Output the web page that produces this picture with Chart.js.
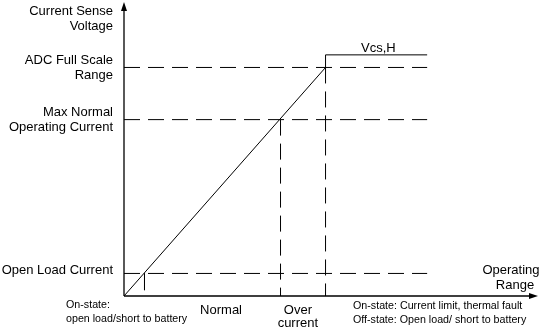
<!DOCTYPE html>
<html>
<head>
<meta charset="utf-8">
<script src="https://cdn.jsdelivr.net/npm/chart.js@4"></script>
<style>
    html, body { margin: 0; padding: 0; background: #fff; }
</style>
</head>
<body>
<canvas id="myChart" width="546" height="331"></canvas>
<script>
// niveis no eixo da tensao (unidades arbitrarias 0..10)
var levelLabels = [['ADC Full Scale', 'Range'], ['Max Normal', 'Operating Current'], ['Open Load Current']];
var levelValues = [7.8, 6.02, 0.77];
var dashEndX = 7.34;

// curva da tensao de sense
var curveX = [0, 4.88, 4.88, 7.34];
var curveY = [0, 7.8, 8.23, 8.23];
var curveLabel = 'Vcs,H';

// linhas verticais tracejadas
var limitX = [3.79, 4.88];
var limitTop = [6.02, 7.8];

// tracinho abaixo do open load
var tickX = [0.496, 0.496];
var tickY = [0.77, 0.2];

// textos das regioes
var regionLabels = [['Normal'], ['Over', 'current']];
var regionX = [2.35, 4.21];
var noteLeft = ['On-state:', 'open load/short to battery'];
var noteRight = ['On-state: Current limit, thermal fault', 'Off-state: Open load/ short to battery'];
var yTitle = ['Current Sense', 'Voltage'];
var xTitle = ['Operating', 'Range'];

function pts(xs, ys) {
    var out = [];
    for (var i = 0; i < xs.length; i++) {
        out.push({ x: xs[i], y: ys[i] });
    }
    return out;
}

var datasets = [];

datasets.push({
    data: pts(curveX, curveY),
    borderColor: '#000',
    borderWidth: 1,
    pointRadius: 0,
    clip: false
});

for (var i = 0; i < levelValues.length; i++) {
    datasets.push({
        data: pts([0, dashEndX], [levelValues[i], levelValues[i]]),
        borderColor: '#000',
        borderWidth: 1,
        borderDash: [16, 8],
        pointRadius: 0,
        clip: false
    });
}

for (var i = 0; i < limitX.length; i++) {
    datasets.push({
        data: pts([limitX[i], limitX[i]], [limitTop[i], 0]),
        borderColor: '#000',
        borderWidth: 1,
        borderDash: [16, 8],
        pointRadius: 0,
        clip: false
    });
}

datasets.push({
    data: pts(tickX, tickY),
    borderColor: '#000',
    borderWidth: 1,
    pointRadius: 0,
    clip: false
});

var textos = {
    id: 'textos',
    afterDraw: function (chart) {
        var ctx = chart.ctx;
        var area = chart.chartArea;
        var sx = chart.scales.x;
        var sy = chart.scales.y;
        ctx.save();

        // eixos com setas
        ctx.strokeStyle = '#000';
        ctx.fillStyle = '#000';
        ctx.lineWidth = 1.3;
        ctx.beginPath();
        ctx.moveTo(area.left, area.bottom);
        ctx.lineTo(area.left, area.top + 4);
        ctx.moveTo(area.left, area.bottom);
        ctx.lineTo(area.right - 4, area.bottom);
        ctx.stroke();
        ctx.beginPath();
        ctx.moveTo(area.left, area.top - 1);
        ctx.lineTo(area.left - 3, area.top + 8);
        ctx.lineTo(area.left + 3, area.top + 8);
        ctx.closePath();
        ctx.fill();
        ctx.beginPath();
        ctx.moveTo(area.right + 1, area.bottom);
        ctx.lineTo(area.right - 8, area.bottom - 3);
        ctx.lineTo(area.right - 8, area.bottom + 3);
        ctx.closePath();
        ctx.fill();

        ctx.fillStyle = '#000';
        ctx.textBaseline = 'middle';
        ctx.font = '13px "Liberation Sans", Arial, sans-serif';

        // titulo eixo y
        ctx.textAlign = 'right';
        ctx.fillText(yTitle[0], area.left - 11, 11);
        ctx.fillText(yTitle[1], area.left - 11, 26);

        // rotulos dos niveis
        for (var i = 0; i < levelLabels.length; i++) {
            var yy = sy.getPixelForValue(levelValues[i]);
            if (levelLabels[i].length == 2) {
                ctx.fillText(levelLabels[i][0], area.left - 11, yy - 7.5);
                ctx.fillText(levelLabels[i][1], area.left - 11, yy + 7.5);
            } else {
                ctx.fillText(levelLabels[i][0], area.left - 11, yy - 3);
            }
        }

        // Vcs,H
        ctx.textAlign = 'center';
        var cx = (sx.getPixelForValue(curveX[2]) + sx.getPixelForValue(curveX[3])) / 2;
        ctx.fillText(curveLabel, cx + 2, sy.getPixelForValue(curveY[3]) - 6);

        // titulo eixo x
        ctx.fillText(xTitle[0], area.right - 26, area.bottom - 26);
        ctx.fillText(xTitle[1], area.right - 22, area.bottom - 11);

        // regioes
        for (var i = 0; i < regionLabels.length; i++) {
            var px = sx.getPixelForValue(regionX[i]);
            if (regionLabels[i].length == 1) {
                ctx.fillText(regionLabels[i][0], px, area.bottom + 14);
            } else {
                ctx.fillText(regionLabels[i][0], px, area.bottom + 14);
                ctx.fillText(regionLabels[i][1], px, area.bottom + 27);
            }
        }

        // notas
        ctx.font = '10.7px "Liberation Sans", Arial, sans-serif';
        ctx.textAlign = 'left';
        ctx.fillText(noteLeft[0], 66, area.bottom + 9);
        ctx.fillText(noteLeft[1], 66, area.bottom + 23);
        ctx.fillText(noteRight[0], 353, area.bottom + 10);
        ctx.fillText(noteRight[1], 353, area.bottom + 24.5);

        ctx.restore();
    }
};

const config = {
    type: 'line',
    data: { datasets: datasets },
    options: {
        responsive: false,
        animation: false,
        layout: {
            padding: { left: 124, right: 9, top: 3, bottom: 35 }
        },
        plugins: {
            legend: { display: false },
            tooltip: { enabled: false },
            title: { display: false }
        },
        scales: {
            x: { type: 'linear', min: 0, max: 10, display: false },
            y: { type: 'linear', min: 0, max: 10, display: false }
        }
    },
    plugins: [textos]
};

const myChart = new Chart(document.getElementById('myChart'), config);
</script>
</body>
</html>
